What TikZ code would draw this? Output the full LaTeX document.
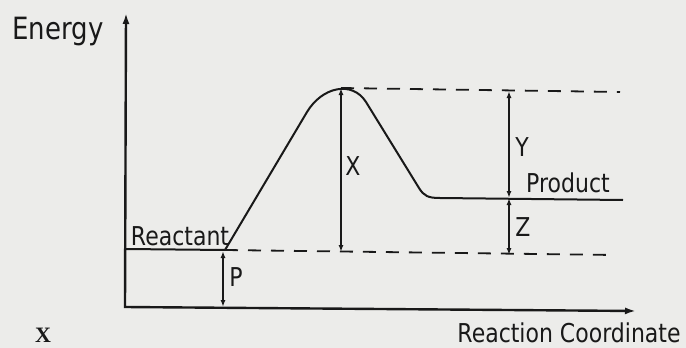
\documentclass[tikz,border=0pt]{standalone}
\usepackage{fontspec}
\usepackage{graphicx}
\setmainfont{DejaVu Sans}
\newfontfamily\serifbold{Liberation Serif}
\usetikzlibrary{arrows.meta}
\definecolor{ink}{RGB}{25,25,25}
\definecolor{paper}{RGB}{236,236,234}
\newcommand{\tallt}[1]{\scalebox{1}[1.18]{#1}}
\begin{document}
\begin{tikzpicture}[x=1pt,y=-1pt,
  axisline/.style={draw=ink,line width=2.4pt},
  curveline/.style={draw=ink,line width=2pt,line join=round},
  levelline/.style={draw=ink,line width=2pt},
  guide/.style={draw=ink,line width=1.8pt,dash pattern=on 13pt off 10pt},
  gap/.style={draw=ink,line width=1.6pt,{Latex[length=7pt,width=5pt]}-{Latex[length=7pt,width=5pt]}},
  lbl/.style={inner sep=0pt,text=ink,font=\fontsize{22}{24}\selectfont},
  biglbl/.style={inner sep=0pt,text=ink,font=\fontsize{26}{28}\selectfont}]
\fill[paper] (0,0) rectangle (686,348);
\useasboundingbox (0,0) rectangle (686,348);
% points
\coordinate (ytip) at (126,13);
\coordinate (orig) at (125,307);
\coordinate (xtip) at (636,311);
\coordinate (rstart) at (126,249);
\coordinate (react) at (225,250);
\coordinate (rdashend) at (615,255);
\coordinate (peak) at (341,88);
\coordinate (topdashend) at (620,92);
\coordinate (pend) at (623,200);
\coordinate (ytop) at (509,91);
\coordinate (ybot) at (509,198);
\coordinate (zbot) at (509,255);
\coordinate (xbot) at (341,252);
\coordinate (ptop) at (223,251);
\coordinate (pbot) at (223,307);
% axes
\draw[axisline,{Latex[length=11pt,width=7pt]}-{Latex[length=11pt,width=7pt]}] (ytip) -- (orig) -- (xtip);
% reactant level and guides
\draw[levelline] (rstart) -- (react);
\draw[guide] (react) -- (rdashend);
\draw[guide] (peak) -- (topdashend);
% energy curve
\draw[curveline] (react) -- (307,112) .. controls (322,87) and (352,80) .. (366,102)
  -- (419,188) .. controls (424,196) and (428,198) .. (440,198) -- (pend);
% gap arrows
\draw[gap] (peak) -- (xbot);
\draw[gap] (ytop) -- (ybot);
\draw[gap] (ybot) -- (zbot);
\draw[gap] (ptop) -- (pbot);
% labels
\node[biglbl] (energy) at (58,32) {\tallt{Energy}};
\node[lbl] (reactant) at (180,236) {\tallt{Reactant}};
\node[lbl] (product) at (568,183) {\tallt{Product}};
\node[lbl] (rc) at (569,333) {\tallt{Reaction Coordinate}};
\node[lbl] (lx) at (353,166) {\tallt{X}};
\node[lbl] (ly) at (522,147) {\tallt{Y}};
\node[lbl] (lz) at (523,227) {\tallt{Z}};
\node[lbl] (lp) at (236,277) {\tallt{P}};
\node[inner sep=0pt,anchor=base,text=ink,font=\serifbold\bfseries\fontsize{22}{24}\selectfont] (qx) at (43,342) {X};
\end{tikzpicture}
\end{document}
